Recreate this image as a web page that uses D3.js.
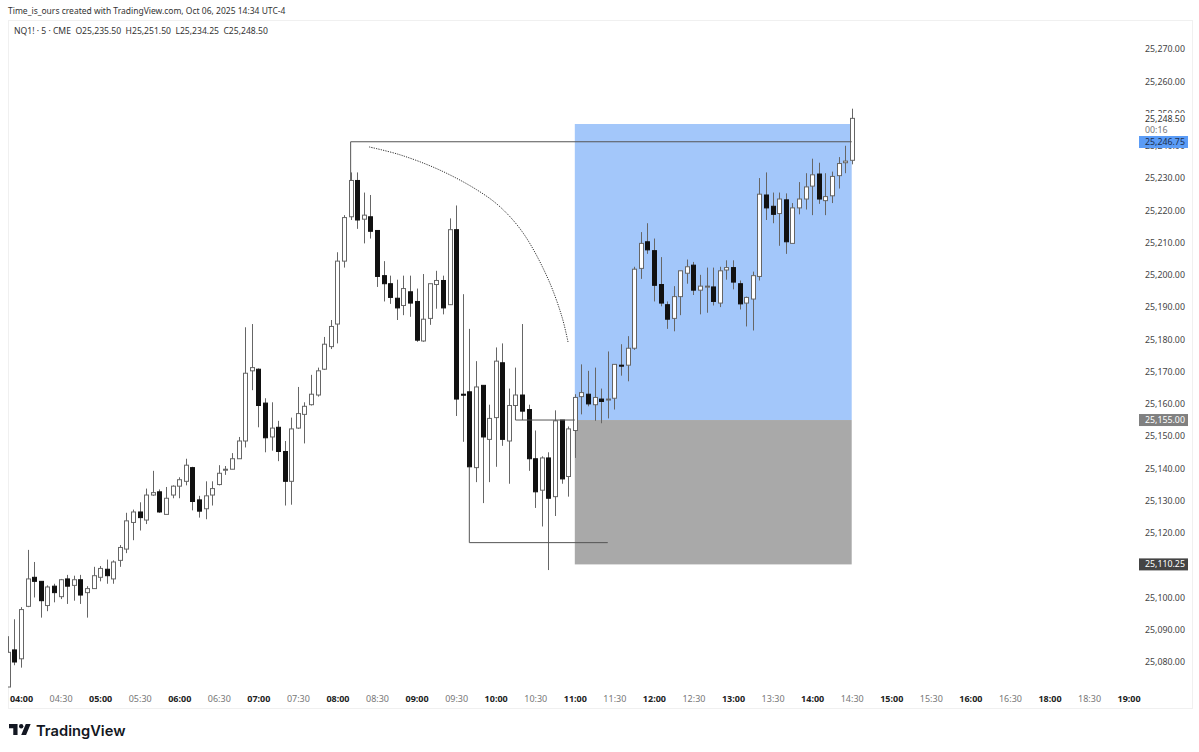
<!DOCTYPE html>
<html>
<head>
<meta charset="utf-8">
<script src="https://cdn.jsdelivr.net/npm/d3@7/dist/d3.min.js"></script>
<style>
  html, body { margin: 0; padding: 0; background: #fff; }
  svg { display: block; font-family: "Noto Sans", sans-serif; }
</style>
</head>
<body>
<div id="chart"></div>
<script>
// 5 min bars, the first two sit before the 04:00 label
const firstBar = -2;
const opens = [25072.25,25083.75,25081,25097.25,25106.25,25105,25097.5,25103.5,25100.25,25105.75,25103.75,25105.5,25101.5,25102.75,25106.25,25108.75,25105.75,25111.5,25115,25123.25,25126.5,25124,25131.75,25132.75,25125.75,25131.75,25134.5,25136,25140.25,25130.25,25127.5,25131.75,25135,25139.5,25139.75,25143,25148.5,25170.25,25170.75,25160.25,25149.75,25152.75,25145.25,25136,25152.5,25156.75,25159.75,25162.75,25170.75,25177.75,25184.75,25204.25,25218,25229.25,25217.25,25218,25213.75,25199.75,25197.25,25192.75,25190.5,25194.75,25191.75,25179.5,25186.5,25197,25198.25,25190.75,25214,25163,25163.75,25140.25,25165.75,25149,25155.75,25172.75,25148.5,25159.5,25162.75,25158.25,25143,25133.25,25143.25,25131.25,25155,25137.5,25151.75,25162.25,25163,25159.75,25161.5,25161.5,25161.75,25172,25172,25177.25,25202,25210.25,25207.5,25197,25190.75,25186.5,25193.25,25200.5,25203,25195.25,25196.5,25196.25,25191.25,25201.5,25202.25,25197.25,25191.25,25192.5,25199.5,25224.75,25221.25,25219,25223.25,25209.75,25220.75,25223.5,25227.5,25231.25,25223,25224.5,25230.75,25234.75,25235.5];
const highs = [25088,25093.25,25097,25114.75,25111,25105,25103.75,25104.25,25105.75,25107,25106.75,25107,25103.5,25109.5,25109.75,25111.75,25111.5,25116.25,25126.25,25127.25,25129.5,25133.75,25139.25,25133.5,25134.25,25134.75,25137.25,25143,25140.5,25131.5,25136,25136,25141,25140.75,25144.75,25149.75,25183.75,25184.75,25171,25161.75,25160.5,25154.75,25148.5,25155.75,25165.25,25160.5,25169,25171.25,25180.75,25186,25207,25218.5,25231.75,25231.75,25225.5,25224.75,25213.75,25204.25,25199.75,25198.5,25199.75,25199.75,25195.75,25200.25,25197.25,25201.25,25199.75,25217.5,25221.5,25194,25183.25,25173.25,25165.75,25159.75,25177.5,25178.75,25164.75,25171.25,25184.75,25159.75,25151.75,25143.75,25145,25158,25155,25153,25163,25172.25,25170.25,25171.25,25164.75,25176.25,25172.25,25178.5,25181,25202.5,25213.25,25216,25211.25,25205.5,25191.75,25196.5,25201.25,25204.75,25204,25200,25202.25,25202.25,25202.5,25204.5,25204.5,25198.25,25193.25,25201,25230,25231.75,25225.5,25225.5,25225.25,25222.25,25228.75,25231.5,25236,25234.75,25231.5,25232,25236.5,25240,25251.5];
const lows = [25072.25,25079,25078.25,25097,25100,25093.75,25095.75,25098.5,25099.5,25098,25099,25098,25093.75,25102.75,25105,25104.25,25104.25,25109.5,25113.75,25117.75,25120.75,25122.75,25131.5,25126.25,25125.75,25130.75,25130.75,25134.75,25127,25124.75,25124.25,25128.5,25134.75,25138,25139.75,25143,25146.5,25164.25,25152.75,25145,25145.5,25142.25,25128.5,25128.75,25152.25,25147.75,25159.5,25162.25,25170.5,25177,25178.75,25202.25,25217,25214.25,25209.75,25211.25,25196.25,25191.75,25191,25186,25187.5,25187,25179.25,25179.25,25184.5,25189.5,25187.75,25190.75,25156.25,25148.25,25140.25,25135.75,25129.25,25135.75,25140.5,25147,25135.25,25159.25,25155,25139.25,25127.75,25122,25108.5,25125.25,25135.25,25131.25,25143.25,25156.75,25159.25,25154.75,25154,25155.5,25158.25,25168.75,25167,25176.75,25198.75,25206.5,25191.75,25190.25,25183.25,25182.5,25187.5,25197.25,25193.75,25187.75,25188.25,25190.5,25190,25198.5,25195.5,25189.25,25184,25182.75,25198.25,25217,25216,25209,25206.5,25209.75,25218.75,25220.25,25218.5,25222,25218.5,25222.25,25226.75,25231.5,25234.25];
const closes = [25083,25080,25096.25,25105.75,25105,25099,25103.25,25101.5,25105.5,25103.5,25105.5,25100.75,25102.75,25106.75,25109,25106.75,25111,25115.5,25123.75,25126.5,25124.75,25131.75,25132.5,25126.5,25130.75,25134.5,25136.5,25141,25129.75,25126.75,25131.5,25133.75,25138.5,25139.75,25143,25148.5,25169.5,25171.25,25159.5,25149.5,25152.5,25145.25,25136,25152.25,25157,25159.25,25163,25170.25,25178.5,25184,25204.25,25217.75,25229.25,25217,25218.5,25213.5,25199.5,25197.25,25193,25189.75,25195.75,25191.25,25179.75,25186.25,25197.25,25198.25,25189.75,25214,25161.5,25162.75,25140.5,25165.25,25149.75,25155.5,25173.25,25149,25159.5,25162.75,25157.75,25143,25132.75,25143.25,25130.75,25154.75,25136.75,25152.25,25162,25163.5,25160,25162,25160.75,25161.5,25172.25,25171.75,25177.25,25201.75,25209.75,25207.75,25196.75,25191.25,25186.25,25193.25,25201.25,25202.5,25195.25,25196.5,25196.5,25191.75,25201.25,25202.25,25197.75,25191,25193,25199.75,25225,25220.75,25218.75,25223.5,25210.25,25220.75,25223.5,25227.25,25231,25223.5,25224.25,25230.5,25234.5,25235.25,25248.5];

const timeLabels = ["04:00","04:30","05:00","05:30","06:00","06:30","07:00","07:30","08:00","08:30","09:00","09:30","10:00","10:30","11:00","11:30","12:00","12:30","13:00","13:30","14:00","14:30","15:00","15:30","16:00","16:30","18:00","18:30","19:00"];
const priceTicks = [25080,25090,25100,25110,25120,25130,25140,25150,25160,25170,25180,25190,25200,25210,25220,25230,25240,25250,25260,25270];

// position tool and drawn lines, [bar, price]
const entryPrice = 25155, targetPrice = 25246.75, stopPrice = 25110.25;
const positionBars = [84, 126];
const highLine = [[50,25229.25],[50,25241.25],[126,25241.25]];
const lowLine = [[68,25140.5],[68,25117],[89,25117]];
const midLine = [[75,25159.5],[75,25155],[84,25155]];
const arcPoints = [[52.8,25239.65],[57.5,25237.2],[63.5,25232.5],[69.1,25226.4],[72.65,25221.1],[76.15,25213],[79.8,25199.4],[82.05,25187],[83,25178.9]];

const W = 1199, H = 752;
const plot = { left: 8, right: 1192, top: 20, bottom: 708 };

const x = d3.scaleLinear().domain([0, 126]).range([21, 851.7]);
const y = d3.scaleLinear().domain([25080, 25270]).range([662, 49]);
const priceFmt = d3.format(",.2f");

const svg = d3.select("#chart").append("svg").attr("width", W).attr("height", H);

svg.append("defs").append("clipPath").attr("id", "plotclip").append("rect")
    .attr("x", plot.left).attr("y", plot.top)
    .attr("width", plot.right - plot.left).attr("height", plot.bottom - plot.top);

// frame
svg.append("rect")
    .attr("x", plot.left + 0.5).attr("y", plot.top + 0.5)
    .attr("width", plot.right - plot.left).attr("height", plot.bottom - plot.top)
    .attr("fill", "none").attr("stroke", "#f0f0f0");

svg.append("text").attr("x", 8).attr("y", 14)
    .attr("font-size", 8.5).attr("fill", "#333")
    .text("Time_is_ours created with TradingView.com, Oct 06, 2025 14:34 UTC-4");

svg.append("text").attr("x", 14).attr("y", 34)
    .attr("font-size", 8.6).attr("fill", "#333").attr("xml:space", "preserve")
    .text("NQ1! · 5 · CME  O25,235.50  H25,251.50  L25,234.25  C25,248.50");

const chart = svg.append("g").attr("clip-path", "url(#plotclip)");

// long position box
chart.append("rect")
    .attr("x", x(positionBars[0])).attr("width", x(positionBars[1]) - x(positionBars[0]))
    .attr("y", y(targetPrice)).attr("height", y(entryPrice) - y(targetPrice))
    .attr("fill", "#a3c7fa");
chart.append("rect")
    .attr("x", x(positionBars[0])).attr("width", x(positionBars[1]) - x(positionBars[0]))
    .attr("y", y(entryPrice)).attr("height", y(stopPrice) - y(entryPrice))
    .attr("fill", "#a9a9a9");

const bars = opens.map((o, i) => ({ i: i + firstBar, o: o, h: highs[i], l: lows[i], c: closes[i] }));

chart.selectAll("line.wick").data(bars).enter().append("line")
    .attr("class", "wick")
    .attr("x1", d => Math.round(x(d.i)) + 0.5).attr("x2", d => Math.round(x(d.i)) + 0.5)
    .attr("y1", d => y(d.h)).attr("y2", d => y(d.l))
    .attr("stroke", "#666").attr("stroke-width", 1);

chart.selectAll("rect.body").data(bars).enter().append("rect")
    .attr("class", "body")
    .attr("x", d => Math.round(x(d.i)) - 1.5)
    .attr("width", 4)
    .attr("y", d => y(Math.max(d.o, d.c)))
    .attr("height", d => Math.max(1, Math.abs(y(d.o) - y(d.c))))
    .attr("fill", d => d.c >= d.o ? "#fff" : "#111")
    .attr("stroke", d => d.c >= d.o ? "#666" : "#111")
    .attr("stroke-width", 1);

const pathLine = d3.line().x(d => x(d[0])).y(d => y(d[1]));
[highLine, lowLine, midLine].forEach(pts => {
    chart.append("path").attr("d", pathLine(pts))
        .attr("fill", "none").attr("stroke", "#555").attr("stroke-width", 1);
});
chart.append("path")
    .attr("d", pathLine.curve(d3.curveCatmullRom)(arcPoints))
    .attr("fill", "none").attr("stroke", "#333").attr("stroke-width", 1).attr("stroke-dasharray", "1.2 1.2");

// price axis
const yAxis = svg.append("g").attr("transform", "translate(1139,0)")
    .call(d3.axisRight(y).tickValues(priceTicks).tickFormat(priceFmt).tickSize(0).tickPadding(6));
yAxis.select(".domain").remove();
yAxis.selectAll("text").attr("font-family", '"Noto Sans", sans-serif').attr("font-size", 8.8).attr("fill", "#444");

// time axis, whole hours are bold
const xAxis = svg.append("g").attr("transform", "translate(0,696)")
    .call(d3.axisBottom(x).tickValues(timeLabels.map((d, i) => i * 6))
        .tickFormat((d, i) => timeLabels[i]).tickSize(0).tickPadding(0));
xAxis.select(".domain").remove();
xAxis.selectAll("text")
    .attr("font-family", '"Noto Sans", sans-serif').attr("font-size", 9)
    .attr("font-weight", (d, i) => timeLabels[i].endsWith("00") ? 700 : 400)
    .attr("fill", (d, i) => timeLabels[i].endsWith("00") ? "#222" : "#777");

// price tags
function priceTag(yc, bg, fg, label) {
    svg.append("rect").attr("x", 1139).attr("y", yc - 6).attr("width", 49).attr("height", 12).attr("fill", bg);
    svg.append("text").attr("x", 1145).attr("y", yc + 3).attr("font-size", 8.8).attr("fill", fg).text(label);
}
svg.append("rect").attr("x", 1139).attr("y", 113).attr("width", 49).attr("height", 23).attr("fill", "#fff");
svg.append("text").attr("x", 1145).attr("y", 122).attr("font-size", 8.8).attr("fill", "#333").text("25,248.50");
svg.append("text").attr("x", 1145).attr("y", 133).attr("font-size", 8.8).attr("fill", "#777").text("00:16");
priceTag(142, "#5b9cf6", "#1c2f4d", priceFmt(targetPrice));
priceTag(y(entryPrice), "#808080", "#fff", priceFmt(entryPrice));
priceTag(y(stopPrice), "#444", "#fff", priceFmt(stopPrice));

// logo
const logo = svg.append("g").attr("transform", "translate(9,724) scale(0.61)").attr("fill", "#131722");
logo.append("path").attr("d", "M14 18H7V7H0V0h14v18zM28 18h-8l7.5-18h8L28 18z");
logo.append("circle").attr("cx", 20).attr("cy", 3.6).attr("r", 3.6);
svg.append("text").attr("x", 36).attr("y", 736)
    .attr("font-family", "Inter, sans-serif").attr("font-size", 14.7).attr("font-weight", 600)
    .attr("fill", "#131722").text("TradingView");
</script>
</body>
</html>
